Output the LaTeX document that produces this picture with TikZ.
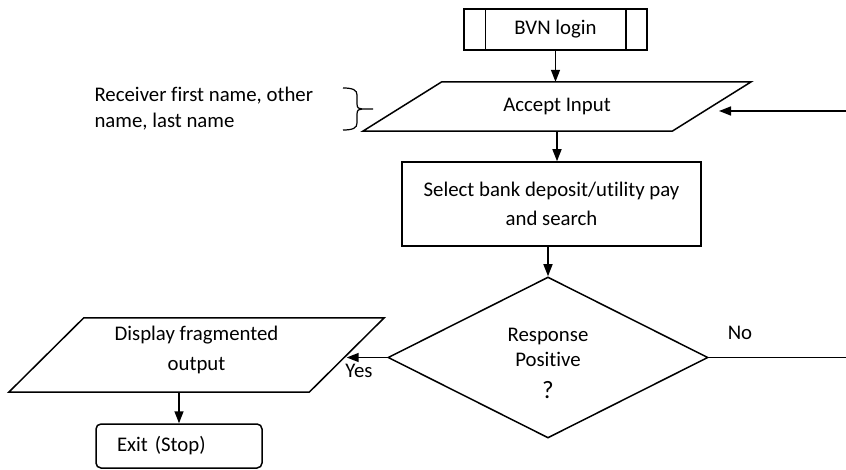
\documentclass[tikz,border=0pt]{standalone}
\usepackage{fontspec}
\setmainfont{Carlito}[Ligatures=NoCommon]
\usetikzlibrary{arrows.meta, shapes.geometric, calc}

\begin{document}
\begin{tikzpicture}[x=1pt, y=-1pt, >={Triangle[length=12pt, width=9pt]},
  every node/.style={font=\fontsize{20.8}{26}\selectfont},
  box/.style={draw, line width=1.5pt, inner sep=0pt, align=center},
  io/.style={inner sep=0pt, align=center},
  link/.style={->, line width=1.5pt}]

  \useasboundingbox (0,0) rectangle (846,470);

  % Start: predefined process
  \node[box, minimum width=183, minimum height=41] (bvn) at (555.5,29.5) {BVN login};
  \draw[line width=1.5pt] ([xshift=22]bvn.north west) -- ([xshift=22]bvn.south west);
  \draw[line width=1.5pt] ([xshift=-22]bvn.north east) -- ([xshift=-22]bvn.south east);

  % Input (parallelogram round the body of the node)
  \node[io, minimum width=309, minimum height=49] (accept) at (557,106.5) {Accept Input};
  \draw[line width=1.5pt] ([xshift=-39.5]accept.south west) -- ([xshift=39.5]accept.north west)
    -- ([xshift=39.5]accept.north east) -- ([xshift=-39.5]accept.south east) -- cycle;

  % Note on the input
  \node[align=left, anchor=west] (note) at (91,109) {Receiver first name, other\\name, last name};
  \draw[line width=1.2pt] (343,88) .. controls (353,88) and (357,90) .. (357,95) -- (357,104)
    .. controls (357,108) and (359,109) .. (362,109) -- (373,109);
  \draw[line width=1.2pt] (362,109) .. controls (359,109) and (357,110) .. (357,114) -- (357,123)
    .. controls (357,128) and (353,130) .. (343,130);

  % Process
  \node[box, minimum width=299, minimum height=84,
        font=\fontsize{20.8}{29}\selectfont] (select) at (551.5,204)
    {Select bank deposit/utility pay\\and search};

  % Decision
  \node[box, diamond, aspect=1.99, minimum width=320, minimum height=161,
        font=\fontsize{20.8}{25}\selectfont] (decision) at (548,357.5)
    {\rule{0pt}{26pt}Response\\Positive\\[7pt]{\fontsize{25}{28}\selectfont ?}};

  % Output
  \node[io, minimum width=300, minimum height=74, font=\fontsize{20.8}{30}\selectfont]
    (display) at (196.5,355) {Display fragmented\\output\\[-16pt]};
  \draw[line width=1.5pt] ([xshift=-37.5]display.south west) -- ([xshift=37.5]display.north west)
    -- ([xshift=37.5]display.north east) -- ([xshift=-37.5]display.south east) -- cycle;

  % End
  \node[box, rounded corners=5pt, minimum height=44, text width=124, inner xsep=21,
        align=left] (exit) at (179,446) {Exit (Stop)};

  % Connectors
  \draw[link] (bvn.south) -- (bvn.south |- accept.north);
  \draw[link] (accept.south) -- (accept.south |- select.north);
  \draw[link] (select.south -| decision.north) -- (decision.north);
  \coordinate (loopin) at (846,111);
  \draw[link, shorten >=7.3pt] (loopin) -- (loopin -| accept.east);
  \coordinate (noend) at (846,357.5);
  \draw[line width=1.5pt] (decision.east) -- (noend);
  \node (no) at (740,333) {No};
  \draw[link] (decision.west) -- (decision.west -| display.east);
  \node (yes) at (359,371) {Yes};
  \draw[link] (exit.north |- display.south) -- (exit.north);

\end{tikzpicture}
\end{document}
